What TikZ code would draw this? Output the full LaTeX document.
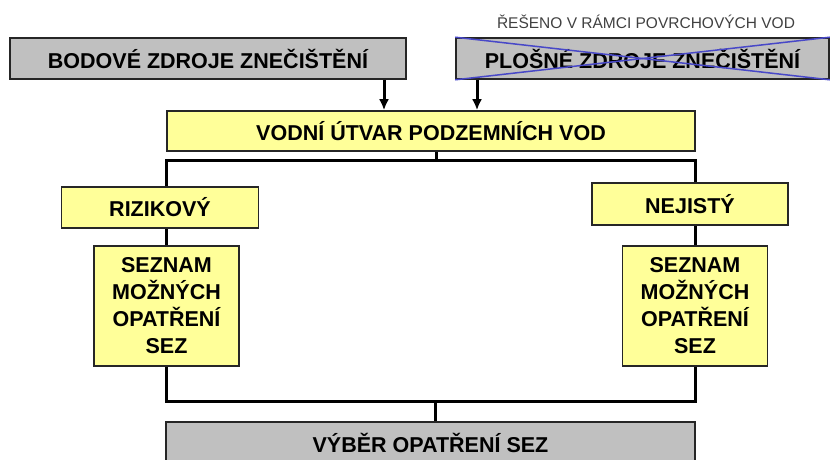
\documentclass[tikz,border=0pt]{standalone}
\usepackage{fontspec}
\setmainfont{Liberation Sans}
\usepackage{xcolor}
\usepackage{tikz}
\usetikzlibrary{arrows.meta}
\definecolor{boxgray}{HTML}{C0C0C0}
\definecolor{boxyellow}{HTML}{FFFF99}
\definecolor{crossblue}{HTML}{4848C8}

\begin{document}
\begin{tikzpicture}[x=1pt,y=-1pt,
  box/.style={draw=black!85,line width=1.6pt,inner sep=0pt,align=center,
    font=\fontsize{21.5}{27}\selectfont\bfseries},
  graybox/.style={box,fill=boxgray},
  yellowbox/.style={box,fill=boxyellow},
  link/.style={line width=3pt,black},
  arr/.style={link,-{Latex[length=11pt,width=10pt]}},
  cross/.style={crossblue,line width=1.5pt}]
\useasboundingbox (0,0) rectangle (831,460);
\node[graybox,minimum width=396pt,minimum height=41pt] (bodove) at (208,58.5) {BODOVÉ ZDROJE ZNEČIŠTĚNÍ};
\node[graybox,minimum width=373pt,minimum height=41pt] (plosne) at (642.5,58.5) {PLOŠNÉ ZDROJE ZNEČIŠTĚNÍ};
\node[font=\fontsize{15.5}{18}\selectfont,text=black!75,inner sep=0pt] (note) at (646,22) {ŘEŠENO V RÁMCI POVRCHOVÝCH VOD};
\node[yellowbox,minimum width=528pt,minimum height=40pt] (vodni) at (431,131) {VODNÍ ÚTVAR PODZEMNÍCH VOD};
\node[yellowbox,minimum width=197pt,minimum height=41pt] (riz) at (160,207.5) {RIZIKOVÝ};
\node[yellowbox,minimum width=196pt,minimum height=42pt] (nej) at (690,204) {NEJISTÝ};
\node[yellowbox,minimum width=145pt,minimum height=120pt] (sezL) at (166.5,306) {SEZNAM\\MOŽNÝCH\\OPATŘENÍ\\SEZ};
\node[yellowbox,minimum width=145pt,minimum height=120pt] (sezR) at (695,306) {SEZNAM\\MOŽNÝCH\\OPATŘENÍ\\SEZ};
\node[graybox,minimum width=529pt,minimum height=42pt] (vyber) at (430.5,443) {VÝBĚR OPATŘENÍ SEZ};
% crossed-out box
\draw[cross] (plosne.north west) -- (plosne.south east);
\draw[cross] (plosne.south west) -- (plosne.north east);
% inputs
\draw[arr] (bodove.south -| 384,0) -- (384,0 |- vodni.north);
\draw[arr] (plosne.south -| 477,0) -- (477,0 |- vodni.north);
% branches
\coordinate (split) at (436,160);
\coordinate (join) at (435,401);
\draw[link] (vodni.south -| split) -- (split);
\draw[link] (riz.north -| sezL.center) |- (split) -| (nej.north -| sezR.center);
\draw[link] (riz.south -| sezL.center) -- (sezL.north);
\draw[link] (nej.south -| sezR.center) -- (sezR.north);
\draw[link] (sezL.south) |- (join) -| (sezR.south);
\draw[link] (join) -- (vyber.north -| join);
\end{tikzpicture}
\end{document}
